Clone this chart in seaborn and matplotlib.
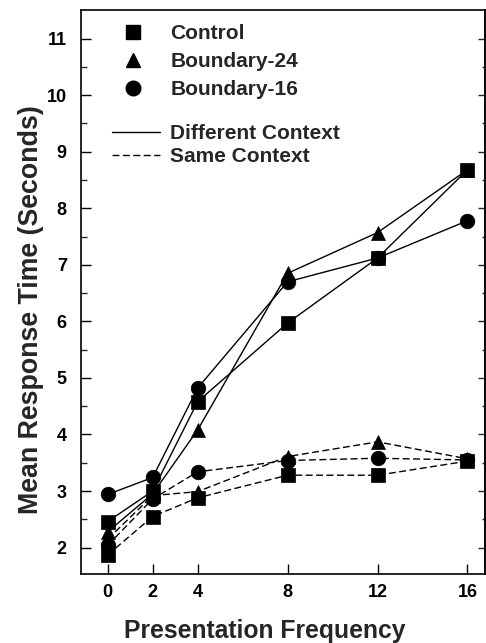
import numpy as np
import pandas as pd
import matplotlib
matplotlib.use("Agg")
import matplotlib.pyplot as plt
import seaborn as sns
from matplotlib.lines import Line2D

# ---- data ----
freq = [0, 2, 4, 8, 12, 16]
groups = ["Control", "Boundary-24", "Boundary-16"]
contexts = ["Different Context", "Same Context"]

control_diff = [2.46, 3.00, 4.58, 5.97, 7.12, 8.68]
b24_diff = [2.28, 2.95, 4.08, 6.85, 7.57, 8.68]
b16_diff = [2.94, 3.24, 4.82, 6.70, 7.12, 7.78]

control_same = [1.87, 2.55, 2.88, 3.28, 3.28, 3.53]
b24_same = [2.15, 2.92, 2.99, 3.61, 3.87, 3.57]
b16_same = [2.04, 2.86, 3.34, 3.54, 3.58, 3.55]

y_ticks = [2, 3, 4, 5, 6, 7, 8, 9, 10, 11]

diff_vals = [control_diff, b24_diff, b16_diff]
same_vals = [control_same, b24_same, b16_same]

rows = []
for g, dv, sv in zip(groups, diff_vals, same_vals):
    for f, v in zip(freq, dv):
        rows.append({"freq": f, "rt": v, "group": g, "context": contexts[0]})
    for f, v in zip(freq, sv):
        rows.append({"freq": f, "rt": v, "group": g, "context": contexts[1]})
df = pd.DataFrame(rows)

# ---- style ----
sns.set_theme(style="ticks")
plt.rcParams["font.family"] = ["Liberation Sans", "DejaVu Sans"]
plt.rcParams["font.weight"] = "bold"
plt.rcParams["axes.labelweight"] = "bold"

marker_of = {"Control": "s", "Boundary-24": "^", "Boundary-16": "o"}
size_of = {"Control": 9.5, "Boundary-24": 10.5, "Boundary-16": 10.5}
dash_of = {"Different Context": "", "Same Context": (5, 2.5)}

fig = plt.figure(figsize=(4.86, 6.43), dpi=100)
ax = fig.add_axes([0.166, 0.107, 0.832, 0.877])

for g in groups:
    sub = df[df["group"] == g]
    sns.lineplot(
        data=sub, x="freq", y="rt", style="context",
        markers={c: marker_of[g] for c in contexts},
        dashes=dash_of, color="black", linewidth=1.0,
        markersize=size_of[g], markeredgecolor="black",
        markeredgewidth=0.5, legend=False, ax=ax, estimator=None,
    )

ax.set_xlim(-1.2, 16.78)
ax.set_ylim(1.53, 11.5)
ax.set_xticks(freq)
ax.set_yticks(y_ticks)
ax.set_yticks([t + 0.5 for t in y_ticks[:-1]], minor=True)
ax.tick_params(axis="both", which="major", direction="in", length=7,
               width=1.0, labelsize=13, colors="black")
ax.tick_params(axis="x", which="major", pad=7)
ax.tick_params(axis="y", which="major", pad=10)
ax.tick_params(axis="y", which="minor", direction="in", length=4, width=1.0)
for lab in ax.get_xticklabels() + ax.get_yticklabels():
    lab.set_fontweight("bold")

for s in ax.spines.values():
    s.set_linewidth(1.2)
    s.set_color("black")

sec = ax.secondary_yaxis("right")
sec.set_yticks(y_ticks)
sec.set_yticks([t + 0.5 for t in y_ticks[:-1]], minor=True)
sec.tick_params(which="major", direction="in", length=5, width=1.0, labelright=False)
sec.tick_params(which="minor", direction="in", length=2.5, width=1.0, labelright=False)

ax.set_xlabel("Presentation Frequency", fontsize=17.8, fontweight="bold")
ax.set_ylabel("Mean Response Time (Seconds)", fontsize=19.3, fontweight="bold")
ax.xaxis.set_label_coords(0.456, -0.08)
ax.yaxis.set_label_coords(-0.09, 0.47)

# legends
h1 = [Line2D([], [], color="black", marker=marker_of[g], linestyle="none",
             markersize=size_of[g]) for g in groups]
leg1 = ax.legend(h1, groups, loc="upper left", bbox_to_anchor=(0.104, 0.976),
                 frameon=False, handlelength=1.0, handletextpad=1.28,
                 borderpad=0, borderaxespad=0, labelspacing=0.44,
                 prop={"weight": "bold", "size": 15})
ax.add_artist(leg1)
h2 = [Line2D([], [], color="black", linewidth=1.0, linestyle="-"),
      Line2D([], [], color="black", linewidth=1.0, linestyle=(0, (5, 2.5)))]
ax.legend(h2, contexts, loc="upper left", bbox_to_anchor=(0.077, 0.798),
          frameon=False, handlelength=2.3, handletextpad=0.48,
          borderpad=0, borderaxespad=0, labelspacing=0.2,
          prop={"weight": "bold", "size": 15})

fig.savefig("out.png", dpi=100)
